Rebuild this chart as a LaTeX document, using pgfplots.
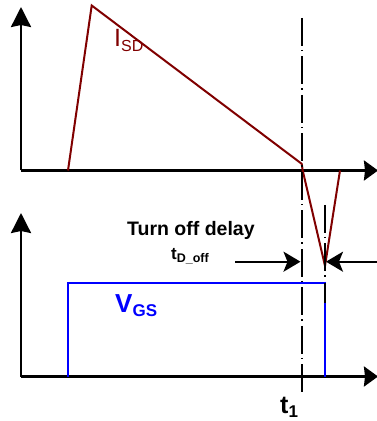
\documentclass[border=0pt]{standalone}
\usepackage{fontspec}
\setmainfont{Liberation Sans}
\usepackage{pgfplots}
\pgfplotsset{compat=1.18}
\usetikzlibrary{arrows.meta}
\definecolor{isd}{RGB}{128,0,0}
\definecolor{vgs}{RGB}{0,0,255}
\tikzset{
  axarrow/.style={black, line width=2.5pt, -{Stealth[length=20pt,width=20pt,inset=2pt]}},
  haxarrow/.style={black, line width=2.5pt, -{Stealth[length=14pt,width=20pt,inset=1pt]}},
  dlyarrow/.style={black, line width=2.2pt, -{Stealth[length=17pt,width=20pt,inset=4pt]}},
  dashdot/.style={black, line width=2pt, dash pattern=on 28pt off 4pt on 1.5pt off 5pt},
  lbl/.style={inner sep=0pt, anchor=base west},
}
\begin{document}
\begin{tikzpicture}
\useasboundingbox (0,0) rectangle (377pt,421pt);
% ---------- top panel: I_SD ----------
\begin{axis}[at={(21pt,250.5pt)}, anchor=south west, x=1pt, y=1pt,
  xmin=0, xmax=356, ymin=0, ymax=164, hide axis, clip=false]
\addplot[axarrow] coordinates {(0,0) (0,163.5)};
\addplot[haxarrow] coordinates {(0,0) (357,0)};
\addplot[isd, line width=2pt, line join=miter] coordinates {
  (47,0) (70.7,165) (280.7,6.7) (281.7,0) (304,-95.3) (319,0)};
\addplot[dashdot] coordinates {(280.8,152.5) (280.8,-224.5)};
\addplot[dashdot] coordinates {(304,-34.5) (304,-132.5)};
\addplot[dlyarrow] coordinates {(214,-91.2) (279.5,-91.2)};
\addplot[dlyarrow] coordinates {(357,-91.2) (305,-91.2)};
\node[lbl, text=isd] at (axis cs:93,123.5)
  {\fontsize{25}{25}\selectfont I\raisebox{-5pt}{\fontsize{16}{16}\selectfont SD}};
\node[lbl] at (axis cs:106,-65.2)
  {\fontsize{19.5}{20}\selectfont\bfseries Turn off delay};
\node[lbl] at (axis cs:150,-89.5)
  {\fontsize{17}{17}\selectfont\bfseries t\raisebox{-3pt}{\fontsize{12.5}{12.5}\selectfont D\_off}};
\node[lbl] at (axis cs:259,-243)
  {\fontsize{25}{25}\selectfont\bfseries t\raisebox{-4pt}{\fontsize{17}{17}\selectfont 1}};
\end{axis}
% ---------- bottom panel: V_GS ----------
\begin{axis}[at={(21pt,44.5pt)}, anchor=south west, x=1pt, y=1pt,
  xmin=0, xmax=356, ymin=0, ymax=164, hide axis, clip=false]
\addplot[axarrow] coordinates {(0,0) (0,163.5)};
\addplot[haxarrow] coordinates {(0,0) (357,0)};
\addplot[vgs, line width=2pt, line join=miter] coordinates {
  (47,0) (47,93.8) (304,93.8) (304,0)};
\addplot[black, line width=2pt] coordinates {(304,93.8) (304,73.5)};
\node[lbl, text=vgs] at (axis cs:94,63.5)
  {\fontsize{26}{26}\selectfont\bfseries V\raisebox{-4pt}{\fontsize{17}{17}\selectfont GS}};
\end{axis}
\end{tikzpicture}
\end{document}
